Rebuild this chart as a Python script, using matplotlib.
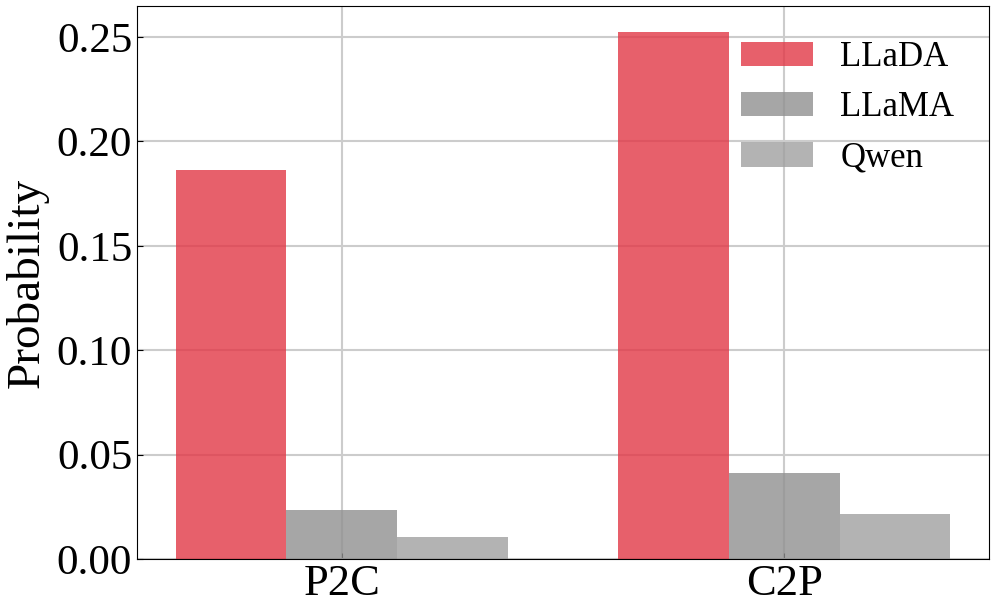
import numpy as np
import matplotlib
matplotlib.use('Agg')
import matplotlib.pyplot as plt

# dados
tarefas = ['P2C', 'C2P']
modelos = ['LLaDA', 'LLaMA', 'Qwen']
llada = [0.1865, 0.2522]
llama = [0.0235, 0.0412]
qwen = [0.0105, 0.0215]

plt.rcParams['font.family'] = ['Liberation Serif', 'DejaVu Serif']

fig, ax = plt.subplots(figsize=(9.96, 6.16), dpi=100)
x = np.arange(len(tarefas))
largura = 0.25

cores = ['#e23846', '#909090', '#a0a0a0']
series = [llada, llama, qwen]
for i, (nome, vals) in enumerate(zip(modelos, series)):
    ax.bar(x + (i - 1) * largura, vals, largura, label=nome, color=cores[i], alpha=0.8)

ax.set_xticks(x)
ax.set_xticklabels(tarefas, fontsize=32)
ax.set_yticks([0, 0.05, 0.10, 0.15, 0.20, 0.25])
ax.set_yticklabels(['0.00', '0.05', '0.10', '0.15', '0.20', '0.25'], fontsize=31)
ax.set_ylabel('Probability', fontsize=34, labelpad=6)
ax.tick_params(direction='in', length=4)
ax.set_axisbelow(True)
ax.grid(True, color='#cccccc', linewidth=1.5)
ax.legend(fontsize=25, frameon=False, loc='upper right', handlelength=2.05,
          borderaxespad=0.6)

plt.subplots_adjust(left=0.1376, right=0.993, top=0.990, bottom=0.0925)
plt.savefig('out.png', dpi=100)
